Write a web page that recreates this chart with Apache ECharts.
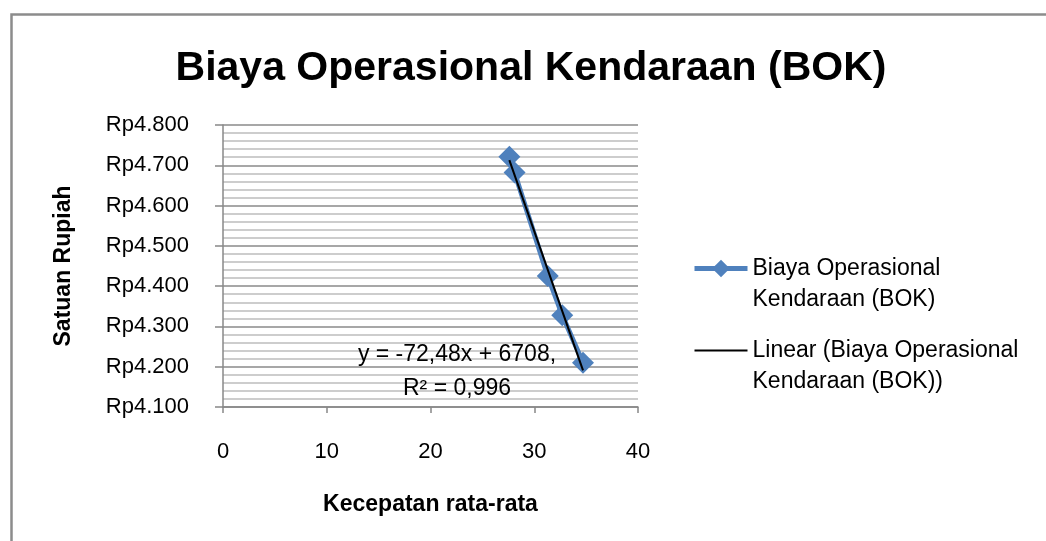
<!DOCTYPE html>
<html>
<head>
<meta charset="utf-8">
<script src="https://cdn.jsdelivr.net/npm/echarts@6/dist/echarts.min.js"></script>
<style>
  html, body { margin: 0; padding: 0; background: #fff; }
  #chart { width: 1046px; height: 541px; }
</style>
</head>
<body>
<div id="chart"></div>
<script>
// data
var kecepatan = [27.6, 28.1, 31.3, 32.7, 34.7];
var biaya = [4721, 4682, 4425, 4328, 4210];
// trend line end points (as drawn)
var trendX = [27.6, 34.7];
var trendY = [4713, 4191];
var seriesName = 'Biaya Operasional\nKendaraan (BOK)';
var trendName = 'Linear (Biaya Operasional\nKendaraan (BOK))';
var eqLines = ['y = -72,48x + 6708,', 'R² = 0,996'];

var font = '"Liberation Sans", Arial, sans-serif';
var chart = echarts.init(document.getElementById('chart'));

var option = {
    animation: false,
    backgroundColor: '#fff',
    textStyle: { fontFamily: font },
    title: {
        text: 'Biaya Operasional Kendaraan (BOK)',
        left: 531, top: 48, textAlign: 'center', padding: 0,
        textStyle: { fontSize: 41, fontWeight: 'bold', color: '#000', fontFamily: font }
    },
    grid: { left: 223, right: 408, top: 125, bottom: 134 },
    legend: {
        orient: 'vertical',
        left: 692, top: 222, padding: 0,
        itemWidth: 53, itemHeight: 22,
        itemGap: -11,
        // leading blank line keeps the icon level with the first text line
        formatter: function (name) { return '\n' + name; },
        textStyle: { fontSize: 23, color: '#000', lineHeight: 31, fontFamily: font },
        data: [
            { name: seriesName, lineStyle: { width: 5 } },
            { name: trendName, itemStyle: { opacity: 0 }, lineStyle: { width: 2 } }
        ]
    },
    xAxis: {
        type: 'value', min: 0, max: 40, interval: 10,
        name: 'Kecepatan rata-rata', nameLocation: 'middle', nameGap: 86,
        nameTextStyle: { fontSize: 23, fontWeight: 'bold', color: '#000' },
        axisLine: { show: true, lineStyle: { color: '#888', width: 1.5 } },
        axisTick: { show: true, length: 6, lineStyle: { color: '#888', width: 1.5 } },
        axisLabel: { fontSize: 22, color: '#000', margin: 34 },
        splitLine: { show: false }
    },
    yAxis: {
        type: 'value', min: 4100, max: 4800, interval: 100,
        name: 'Satuan Rupiah', nameLocation: 'middle', nameGap: 148, nameRotate: 90,
        nameTextStyle: { fontSize: 23, fontWeight: 'bold', color: '#000' },
        axisLine: { show: true, lineStyle: { color: '#888', width: 1.5 } },
        axisTick: { show: true, length: 8, lineStyle: { color: '#888', width: 1.5 } },
        axisLabel: {
            fontSize: 22, color: '#000', margin: 34,
            formatter: function (v) { return 'Rp' + String(v).replace(/\B(?=(\d{3})+(?!\d))/g, '.'); }
        },
        splitLine: { show: true, lineStyle: { color: '#8a8a8a', width: 1.5 } },
        minorTick: { show: false, splitNumber: 5 },
        minorSplitLine: { show: true, lineStyle: { color: '#bdbdbd', width: 1.5 } }
    },
    series: [
        {
            name: seriesName,
            type: 'line',
            data: kecepatan.map(function (x, i) { return [x, biaya[i]]; }),
            symbol: 'diamond', symbolSize: 22,
            itemStyle: { color: '#4F81BD' },
            lineStyle: { color: '#4F81BD', width: 5 },
            z: 2
        },
        {
            name: trendName,
            type: 'line',
            data: trendX.map(function (x, i) { return [x, trendY[i]]; }),
            symbol: 'none',
            itemStyle: { color: '#000' },
            lineStyle: { color: '#000', width: 2 },
            z: 3
        }
    ],
    graphic: [
        {
            type: 'rect', left: 9, top: 12, z: -10, silent: true,
            shape: { width: 1100, height: 600 },
            style: { fill: 'none', stroke: '#8c8c8c', lineWidth: 2.5 }
        },
        {
            type: 'text', x: 457, y: 338, z: 10,
            style: {
                text: eqLines.join('\n'), fontSize: 23, lineHeight: 34,
                fill: '#000', align: 'center', verticalAlign: 'top', fontFamily: font
            }
        }
    ]
};
chart.setOption(option);
</script>
</body>
</html>
